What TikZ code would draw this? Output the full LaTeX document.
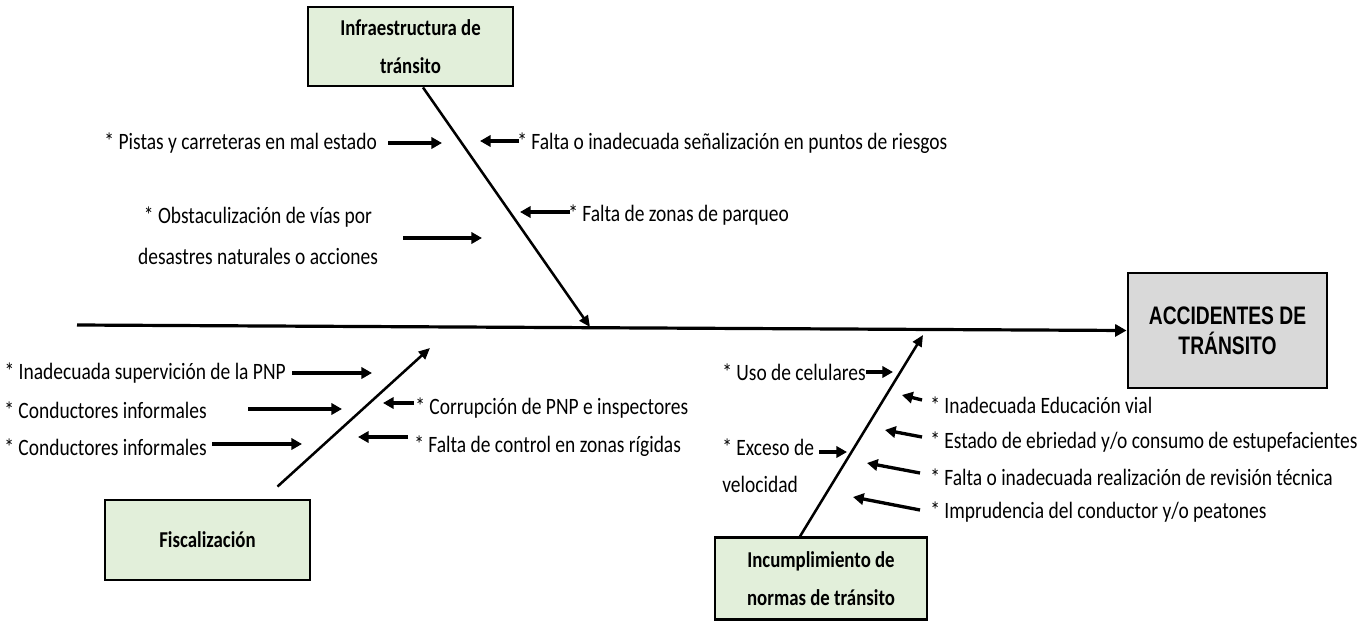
\documentclass[tikz,border=0pt]{standalone}
\usepackage{fontspec}
\setmainfont[FakeStretch=0.83]{Carlito}
\newfontfamily\effectfont[FakeStretch=0.76]{Liberation Sans}
\usetikzlibrary{arrows.meta,calc,positioning}
\definecolor{catfill}{RGB}{226,239,218}
\definecolor{effectfill}{RGB}{217,217,217}

\tikzset{
    catbox/.style={draw, line width=2.2pt, fill=catfill, align=center, inner sep=0pt,
        font=\fontsize{17}{28}\selectfont\bfseries},
    effectbox/.style={draw, line width=2.2pt, fill=effectfill, align=center, inner sep=0pt,
        font=\effectfont\fontsize{19}{22.5}\selectfont\bfseries},
    cause/.style={inner sep=0pt},
    causearrow/.style={line width=2.5pt, -{Triangle[length=8pt,width=8.5pt]}},
    bone/.style={line width=1.9pt, -{Triangle[length=8.5pt,width=7.5pt]}},
}

\begin{document}
\begin{tikzpicture}[x=0.75pt, y=-0.75pt, font=\fontsize{17.6}{28}\selectfont]
    \useasboundingbox (0,0) rectangle (1369,621);

    % categories and effect
    \node[catbox, minimum width=153.75pt, minimum height=59.25pt] (infra) at (410.5,46.5) {Infraestructura de\\tránsito};
    \node[catbox, minimum width=153.75pt, minimum height=60pt] (fisc) at (207.5,540) {Fiscalización};
    \node[catbox, minimum width=159pt, minimum height=61pt] (incum) at (821,578.5) {Incumplimiento de\\normas de tránsito};
    \node[effectbox, minimum width=149.25pt, minimum height=86.25pt] (effect) at (1227.5,330.5) {ACCIDENTES DE\\TRÁNSITO};

    % spine and bones
    \coordinate (spine-start) at (77,325);
    \draw[line width=2.4pt, -{Triangle[length=8.5pt,width=9pt]}] (spine-start) -- (effect.west);

    \coordinate (infra-tip) at (590,327);
    \coordinate (fisc-tip) at (430,348);
    \coordinate (incum-tip) at (923,335);
    \draw[bone] ($(infra.south)+(12.5,0)$) -- (infra-tip);
    \draw[bone] ($(fisc.north)+(70,-12)$) -- (fisc-tip);
    \draw[bone] ($(incum.north)+(-21,0)$) -- (incum-tip);

    % infraestructura
    \node[cause, anchor=east] (pistas) at (377,143) {* Pistas y carreteras en mal estado};
    \node[cause, align=center, font=\fontsize{17.6}{31}\selectfont] (obstac) at (258,236) {* Obstaculización de vías por\\desastres naturales o acciones};
    \node[cause, anchor=west] (senal) at (517,143) {* Falta o inadecuada señalización en puntos de riesgos};
    \node[cause, anchor=west] (parqueo) at (568,215) {* Falta de zonas de parqueo};

    \coordinate (pistas-tip) at (442,143);
    \coordinate (obstac-tip) at (482,238);
    \coordinate (senal-tip) at (480,141);
    \coordinate (parqueo-tip) at (520,212);
    \draw[causearrow] ($(pistas.east)+(11,0)$) -- (pistas-tip);
    \draw[causearrow] ($(obstac.east)+(25,2)$) -- (obstac-tip);
    \draw[causearrow] ($(senal.west)+(2,-2)$) -- (senal-tip);
    \draw[causearrow] ($(parqueo.west)+(2,-3)$) -- (parqueo-tip);

    % fiscalizacion
    \node[cause, anchor=east] (superv) at (286,373) {* Inadecuada supervición de la PNP};
    \node[cause, anchor=east] (condA) at (207,410) {* Conductores informales};
    \node[cause, anchor=east] (condB) at (207,447) {* Conductores informales};
    \node[cause, anchor=west] (corrup) at (415,408) {* Corrupción de PNP e inspectores};
    \node[cause, anchor=west] (control) at (414,446) {* Falta de control en zonas rígidas};

    \coordinate (superv-tip) at (372,373);
    \coordinate (condA-tip) at (342,409);
    \coordinate (condB-tip) at (302,444);
    \coordinate (corrup-tip) at (383,403);
    \coordinate (control-tip) at (358,437);
    \draw[causearrow] ($(superv.east)+(6,0)$) -- (superv-tip);
    \draw[causearrow] ($(condA.east)+(41,-1)$) -- (condA-tip);
    \draw[causearrow] ($(condB.east)+(5,-3)$) -- (condB-tip);
    \draw[causearrow] ($(corrup.west)+(-1,-5)$) -- (corrup-tip);
    \draw[causearrow] ($(control.west)+(-6,-9)$) -- (control-tip);

    % incumplimiento
    \node[cause, anchor=west] (celul) at (722,372) {* Uso de celulares};
    \node[cause, anchor=west, align=left] (exceso) at (722,466) {* Exceso de\\velocidad};
    \node[cause, anchor=west] (educ) at (930,405) {* Inadecuada Educación vial};
    \node[cause, anchor=west] (ebried) at (930,442) {* Estado de ebriedad y/o consumo de estupefacientes};
    \node[cause, anchor=west] (revis) at (930,477) {* Falta o inadecuada realización de revisión técnica};
    \node[cause, anchor=west] (impru) at (930,512) {* Imprudencia del conductor y/o peatones};

    \coordinate (celul-tip) at (893,372);
    \coordinate (exceso-tip) at (847,452);
    \coordinate (educ-tip) at (902,395);
    \coordinate (ebried-tip) at (885,430);
    \coordinate (revis-tip) at (867,463);
    \coordinate (impru-tip) at (853,497);
    \draw[causearrow] (celul.east) -- (celul-tip);
    \draw[causearrow] ($(exceso.east)+(5,-14)$) -- (exceso-tip);
    \draw[causearrow] ($(educ.west)+(-8,-5)$) -- (educ-tip);
    \draw[causearrow] ($(ebried.west)+(-8,-5)$) -- (ebried-tip);
    \draw[causearrow] ($(revis.west)+(-10,-4)$) -- (revis-tip);
    \draw[causearrow] ($(impru.west)+(-10,-2)$) -- (impru-tip);
\end{tikzpicture}
\end{document}
